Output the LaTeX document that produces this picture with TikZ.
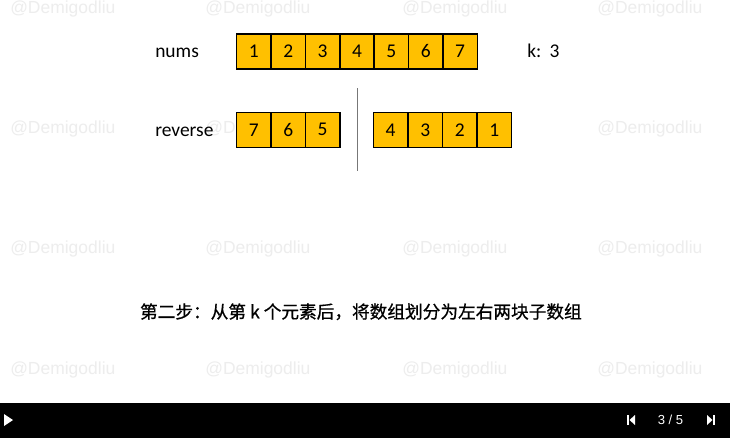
\documentclass[tikz,border=0pt]{standalone}
\usepackage{fontspec}
\usepackage{xcolor}
\setmainfont{Carlito}
\newfontfamily\cjkfont[FakeBold=0.8]{Noto Sans CJK SC}
\newfontfamily\markfont{Liberation Sans}
\definecolor{cellfill}{HTML}{FFC000}
\definecolor{markgray}{HTML}{EDEDED}
\definecolor{divgray}{HTML}{777777}

\begin{document}
\begin{tikzpicture}[x=0.75pt,y=-0.75pt,
    cell/.style={draw=black, line width=1.1pt, fill=cellfill, minimum width=25.8pt, minimum height=26.2pt, font=\fontsize{14.6}{16}\selectfont},
    rowname/.style={anchor=base west, font=\fontsize{14.6}{16}\selectfont},
    wmark/.style={anchor=base west, text=markgray, font=\markfont\fontsize{13.1}{15}\selectfont}]
            \tikzstyle{every node}+=[inner sep=0pt]
            \useasboundingbox (0,0) rectangle (730,438);
            \fill [white] (0,0) rectangle (730,438);
            % watermarks
            \node [wmark] (m11) at (10,14) {@Demigodliu};
            \node [wmark] (m12) at (205,14) {@Demigodliu};
            \node [wmark] (m13) at (402,14) {@Demigodliu};
            \node [wmark] (m14) at (597,14) {@Demigodliu};
            \node [wmark] (m21) at (10,133.5) {@Demigodliu};
            \node [wmark] (m22) at (205,133.5) {@Demigodliu};
            \node [wmark] (m23) at (402,133.5) {@Demigodliu};
            \node [wmark] (m24) at (597,133.5) {@Demigodliu};
            \node [wmark] (m31) at (10,253.5) {@Demigodliu};
            \node [wmark] (m32) at (205,253.5) {@Demigodliu};
            \node [wmark] (m33) at (402,253.5) {@Demigodliu};
            \node [wmark] (m34) at (597,253.5) {@Demigodliu};
            \node [wmark] (m41) at (10,374) {@Demigodliu};
            \node [wmark] (m42) at (205,374) {@Demigodliu};
            \node [wmark] (m43) at (402,374) {@Demigodliu};
            \node [wmark] (m44) at (597,374) {@Demigodliu};
            % nums row
            \node [rowname] (nums) at (155,58) {nums};
            \node [cell] (n1) at (253.9,51.5) {1};
            \node [cell] (n2) at (288.2,51.5) {2};
            \node [cell] (n3) at (322.6,51.5) {3};
            \node [cell] (n4) at (357.0,51.5) {4};
            \node [cell] (n5) at (391.3,51.5) {5};
            \node [cell] (n6) at (425.7,51.5) {6};
            \node [cell] (n7) at (460.1,51.5) {7};
            \node [rowname] (k) at (527,58) {k:\hspace{0.42em}3};
            % reverse row
            \node [rowname] (rev) at (155,136.5) {reverse};
            \node [cell] (r1) at (253.9,129.8) {7};
            \node [cell] (r2) at (288.2,129.8) {6};
            \node [cell] (r3) at (322.6,129.8) {5};
            \node [cell] (r4) at (390.6,129.8) {4};
            \node [cell] (r5) at (425.2,129.8) {3};
            \node [cell] (r6) at (459.8,129.8) {2};
            \node [cell] (r7) at (494.4,129.8) {1};
            \coordinate (cuttop) at (357.5,88.5);
            \coordinate (cutbot) at (357.5,171.5);
            \draw [divgray, line width=1.2pt] (cuttop) -- (cutbot);
            % caption
            \node [anchor=base, font=\cjkfont\fontsize{13.25}{16}\selectfont] (step) at (360.9,318.3) {第二步：从第 k 个元素后，将数组划分为左右两块子数组};
            % player bar
            \fill [black] (0,403) rectangle (730,438);
            \fill [white] (4,414) -- (13,420) -- (4,426) -- cycle;
            \fill [white] (627,415) rectangle (629,425);
            \fill [white] (635,415) -- (629.5,420) -- (635,425) -- cycle;
            \fill [white] (707,415) -- (712.5,420) -- (707,425) -- cycle;
            \fill [white] (713,415) rectangle (715,425);
            \node [text=white, font=\markfont\fontsize{9.8}{11}\selectfont] (page) at (670.5,420) {3 / 5};
          \end{tikzpicture}
\end{document}
